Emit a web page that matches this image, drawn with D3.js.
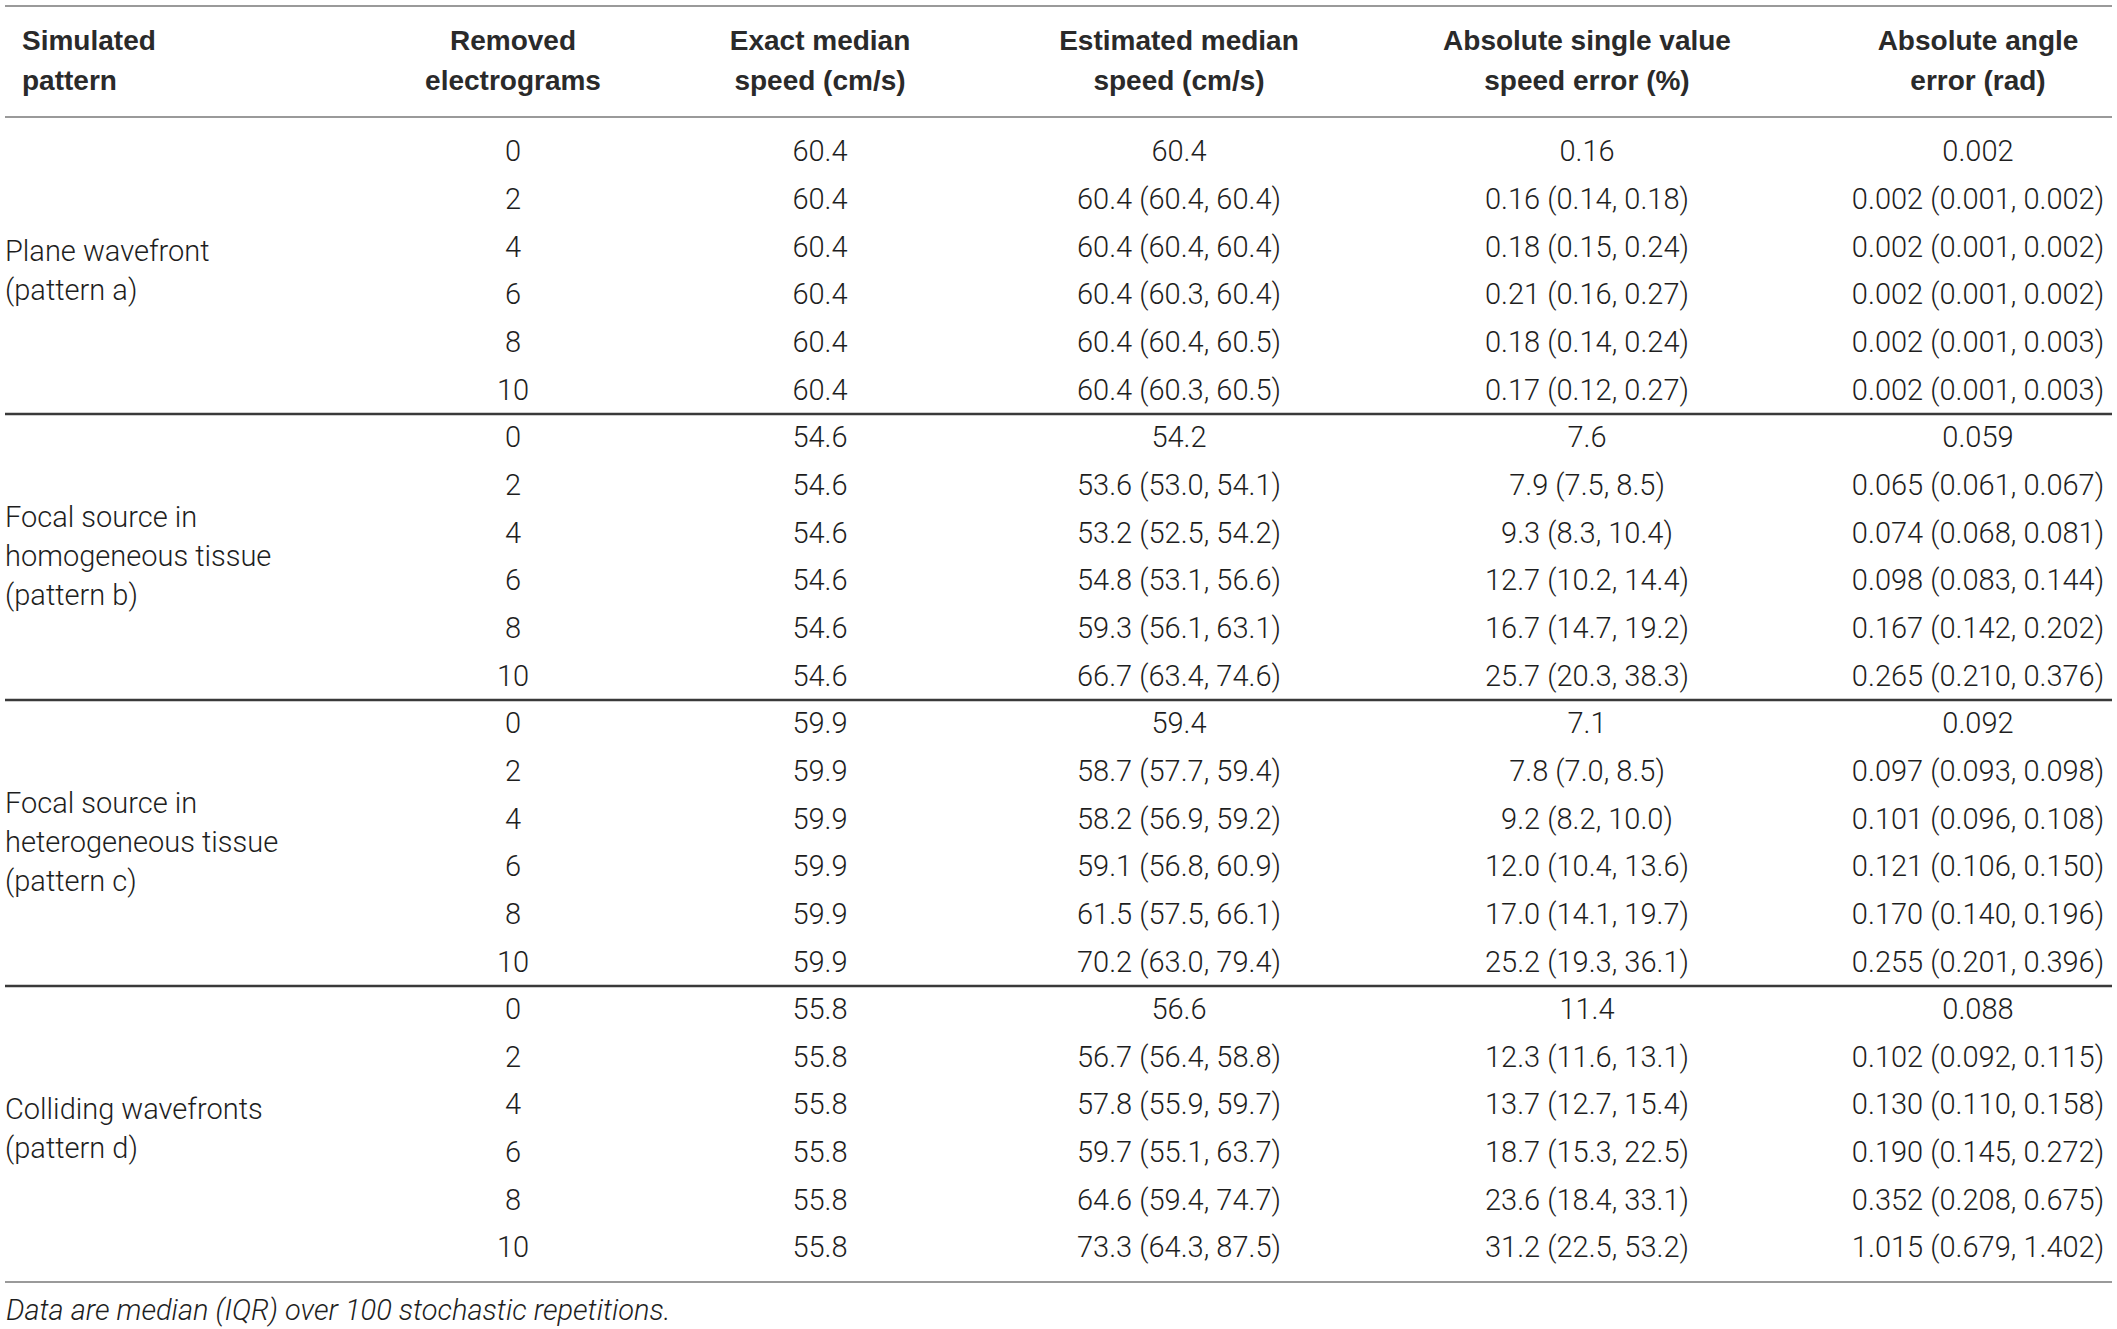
<!DOCTYPE html>
<html>
<head>
<meta charset="utf-8">
<script src="https://cdn.jsdelivr.net/npm/d3@7"></script>
<style>
  html, body { margin: 0; padding: 0; background: #fff; }
  svg text { font-family: "Liberation Sans", Arial, Helvetica, sans-serif; fill: #2a2a2a; }
  svg text.light { font-family: Roboto, "Liberation Sans", Arial, sans-serif; font-weight: 300; fill: #1e1e1e; }
</style>
</head>
<body>
<div id="chart"></div>
<script>
// Table content
const headers = [
    ["Simulated", "pattern"],
    ["Removed", "electrograms"],
    ["Exact median", "speed (cm/s)"],
    ["Estimated median", "speed (cm/s)"],
    ["Absolute single value", "speed error (%)"],
    ["Absolute angle", "error (rad)"]
];

const patterns = [
    ["Plane wavefront", "(pattern a)"],
    ["Focal source in", "homogeneous tissue", "(pattern b)"],
    ["Focal source in", "heterogeneous tissue", "(pattern c)"],
    ["Colliding wavefronts", "(pattern d)"]
];

const removed = [0, 2, 4, 6, 8, 10];

const exactSpeed = ["60.4", "54.6", "59.9", "55.8"];

const estimatedSpeed = [
    ["60.4", "60.4 (60.4, 60.4)", "60.4 (60.4, 60.4)", "60.4 (60.3, 60.4)", "60.4 (60.4, 60.5)", "60.4 (60.3, 60.5)"],
    ["54.2", "53.6 (53.0, 54.1)", "53.2 (52.5, 54.2)", "54.8 (53.1, 56.6)", "59.3 (56.1, 63.1)", "66.7 (63.4, 74.6)"],
    ["59.4", "58.7 (57.7, 59.4)", "58.2 (56.9, 59.2)", "59.1 (56.8, 60.9)", "61.5 (57.5, 66.1)", "70.2 (63.0, 79.4)"],
    ["56.6", "56.7 (56.4, 58.8)", "57.8 (55.9, 59.7)", "59.7 (55.1, 63.7)", "64.6 (59.4, 74.7)", "73.3 (64.3, 87.5)"]
];

const speedError = [
    ["0.16", "0.16 (0.14, 0.18)", "0.18 (0.15, 0.24)", "0.21 (0.16, 0.27)", "0.18 (0.14, 0.24)", "0.17 (0.12, 0.27)"],
    ["7.6", "7.9 (7.5, 8.5)", "9.3 (8.3, 10.4)", "12.7 (10.2, 14.4)", "16.7 (14.7, 19.2)", "25.7 (20.3, 38.3)"],
    ["7.1", "7.8 (7.0, 8.5)", "9.2 (8.2, 10.0)", "12.0 (10.4, 13.6)", "17.0 (14.1, 19.7)", "25.2 (19.3, 36.1)"],
    ["11.4", "12.3 (11.6, 13.1)", "13.7 (12.7, 15.4)", "18.7 (15.3, 22.5)", "23.6 (18.4, 33.1)", "31.2 (22.5, 53.2)"]
];

const angleError = [
    ["0.002", "0.002 (0.001, 0.002)", "0.002 (0.001, 0.002)", "0.002 (0.001, 0.002)", "0.002 (0.001, 0.003)", "0.002 (0.001, 0.003)"],
    ["0.059", "0.065 (0.061, 0.067)", "0.074 (0.068, 0.081)", "0.098 (0.083, 0.144)", "0.167 (0.142, 0.202)", "0.265 (0.210, 0.376)"],
    ["0.092", "0.097 (0.093, 0.098)", "0.101 (0.096, 0.108)", "0.121 (0.106, 0.150)", "0.170 (0.140, 0.196)", "0.255 (0.201, 0.396)"],
    ["0.088", "0.102 (0.092, 0.115)", "0.130 (0.110, 0.158)", "0.190 (0.145, 0.272)", "0.352 (0.208, 0.675)", "1.015 (0.679, 1.402)"]
];

const footnote = "Data are median (IQR) over 100 stochastic repetitions.";

// Layout
const width = 2117, height = 1329;
const headSize = 28, bodySize = 29;
const colCenters = [null, 513, 820, 1179, 1587, 1978];
const leftBody = 5, leftHead = 22;
const lineX = [5, 2112];

const svg = d3.select("#chart").append("svg")
    .attr("width", width)
    .attr("height", height);

// one entry per body row
const rows = [];
patterns.forEach((p, g) => {
    removed.forEach((r, i) => {
        rows.push({
            group: g,
            cells: [String(r), exactSpeed[g], estimatedSpeed[g][i], speedError[g][i], angleError[g][i]]
        });
    });
});

const y = d3.scaleLinear().domain([0, rows.length - 1]).range([151, 1247]);

// Rules
const hline = (yy, color, w) => svg.append("line")
    .attr("x1", lineX[0]).attr("x2", lineX[1])
    .attr("y1", yy).attr("y2", yy)
    .attr("stroke", color).attr("stroke-width", w);

hline(6, "#9a9a9a", 2);
hline(117, "#9a9a9a", 2);
for (let g = 1; g < patterns.length; g++) {
    const k = g * removed.length;
    hline((y(k - 1) + y(k)) / 2 + 1, "#3a3a3a", 2.5);
}
hline(1282, "#9a9a9a", 2);

// Header
const head = svg.append("g").attr("class", "header");
headers.forEach((h, c) => {
    h.forEach((line, li) => {
        head.append("text")
            .attr("x", c === 0 ? leftHead : colCenters[c])
            .attr("y", 50 + li * 40)
            .attr("text-anchor", c === 0 ? "start" : "middle")
            .style("font-size", headSize + "px")
            .style("font-weight", "bold")
            .text(line);
    });
});

// Body cells
const body = svg.append("g").attr("class", "body");
const row = body.selectAll(".row")
    .data(rows)
    .enter().append("g")
    .attr("class", "row")
    .attr("transform", (d, i) => "translate(0," + y(i) + ")");

row.selectAll("text")
    .data(d => d.cells)
    .enter().append("text")
    .attr("class", "light")
    .attr("x", (d, c) => colCenters[c + 1])
    .attr("dy", "0.36em")
    .attr("text-anchor", "middle")
    .style("font-size", bodySize + "px")
    .text(d => d);

// Pattern labels, centred on their group
patterns.forEach((p, g) => {
    const first = g * removed.length;
    const mid = (y(first) + y(first + removed.length - 1)) / 2;
    const step = 39;
    p.forEach((line, li) => {
        body.append("text")
            .attr("class", "light")
            .attr("x", leftBody)
            .attr("y", mid + (li - (p.length - 1) / 2) * step)
            .attr("dy", "0.36em")
            .style("font-size", bodySize + "px")
            .text(line);
    });
});

// Footnote
svg.append("text")
    .attr("class", "light")
    .attr("x", 6)
    .attr("y", 1320)
    .style("font-size", bodySize + "px")
    .style("font-style", "italic")
    .text(footnote);
</script>
</body>
</html>
